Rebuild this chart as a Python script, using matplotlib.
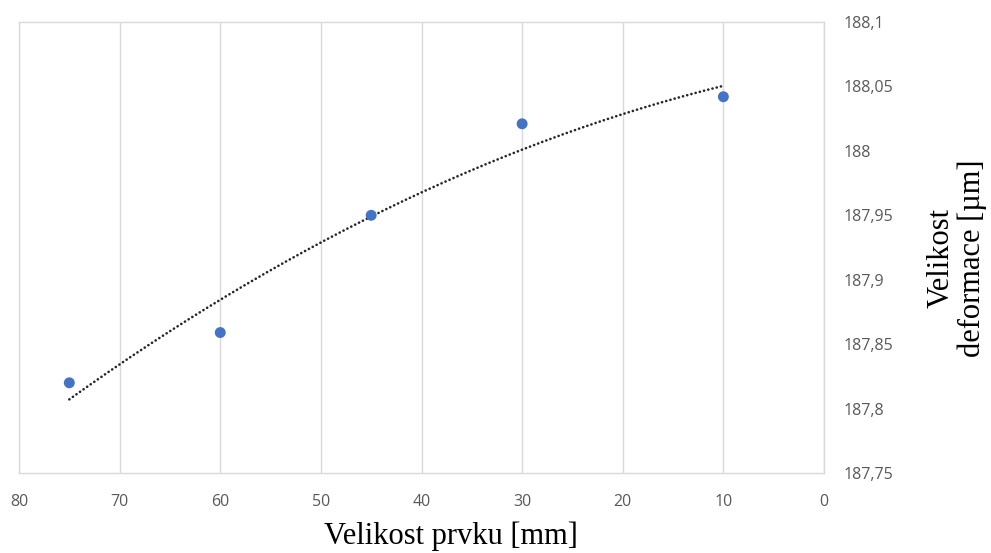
import numpy as np
import matplotlib
matplotlib.use("Agg")
import matplotlib.pyplot as plt
from matplotlib.ticker import FuncFormatter

# data
element_size = [75, 60, 45, 30, 10]
deformation = [187.82, 187.859, 187.95, 188.021, 188.042]
x_ticks = [80, 70, 60, 50, 40, 30, 20, 10, 0]
y_ticks = [187.75, 187.8, 187.85, 187.9, 187.95, 188.0, 188.05, 188.1]
x_label = "Velikost prvku [mm]"
y_label = "Velikost\ndeformace [µm]"

fig = plt.figure(figsize=(9.91, 5.53), dpi=100)
ax = fig.add_axes([19/991, 80/553, 805/991, 451/553])

grid_c = "#d9d9d9"
for xv in x_ticks:
    ax.axvline(xv, color=grid_c, lw=1.0, zorder=0)

# polynomial (order 2) trendline
coef = np.polyfit(element_size, deformation, 2)
xs = np.linspace(max(element_size), min(element_size), 200)
ax.plot(xs, np.polyval(coef, xs), color="#262626", lw=1.9,
        linestyle=(0, (0.05, 1.6)), dash_capstyle="round", zorder=2)

ax.scatter(element_size, deformation, s=62, color="#4472C4", zorder=3,
           edgecolors="none")

ax.set_xlim(80, 0)
ax.set_ylim(187.75, 188.1)
ax.set_xticks(x_ticks)
ax.set_yticks(y_ticks)
ax.yaxis.tick_right()

def fmt(v, pos):
    s = ("%.2f" % v).rstrip("0").rstrip(".")
    return s.replace(".", ",")

ax.yaxis.set_major_formatter(FuncFormatter(fmt))
ax.xaxis.set_major_formatter(FuncFormatter(lambda v, p: "%d" % v))

for sp in ax.spines.values():
    sp.set_color(grid_c)
    sp.set_linewidth(1.0)

ax.tick_params(axis="both", length=0, labelsize=11.5, labelcolor="#595959")
ax.tick_params(axis="x", pad=15)
ax.tick_params(axis="y", pad=14)
for lab in ax.get_xticklabels() + ax.get_yticklabels():
    lab.set_family(["Open Sans", "DejaVu Sans"])

fig.text(451/991, 2/553, x_label, family="Liberation Serif", fontsize=22,
         ha="center", va="bottom", color="black")
fig.text(957/991, 1 - 258/553, y_label, family="Liberation Serif", fontsize=22,
         ha="center", va="center", rotation=90, multialignment="center",
         linespacing=1.1, color="black")

fig.savefig("out.png", dpi=100, facecolor="white")
